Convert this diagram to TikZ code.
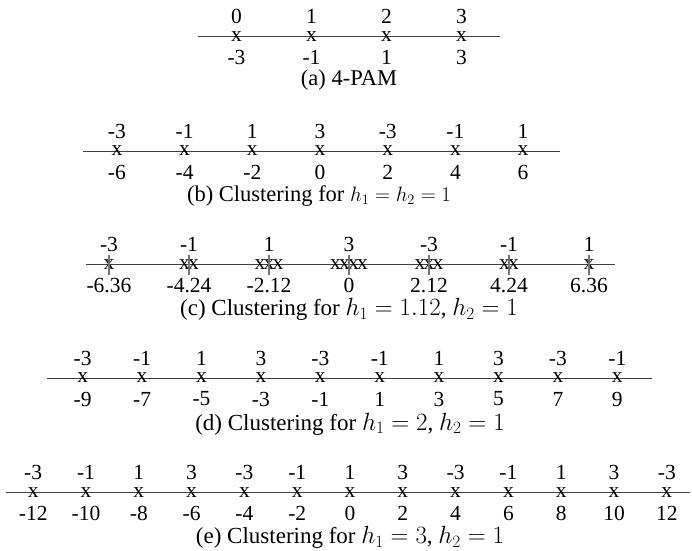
\documentclass[tikz,border=0pt]{standalone}
\usepackage{fontspec}
\setmainfont{Liberation Serif}

\begin{document}
\begin{tikzpicture}[x=1pt,y=-1pt,font=\fontsize{21.5}{25}\selectfont,
  axis/.style={line width=1pt,black!75},
  tickline/.style={line width=1.3pt,black!55},
  lbl/.style={inner sep=0pt},
  captext/.style={inner sep=0pt,font=\fontsize{22.5}{26}\selectfont},
  bigcap/.style={inner sep=0pt,font=\fontsize{23}{27}\selectfont}]
\useasboundingbox (0,0) rectangle (692,550);
% (a) 4-PAM
\coordinate (aL) at (198,36.5);
\coordinate (aR) at (500,36.5);
\draw[axis] (aL) -- (aR);
\foreach \i/\v in {0/-3,1/-1,2/1,3/3}{
  \node[lbl] (ax\i) at (349+37.5*\v,36.5) {x};
  \node[lbl] (at\i) at (349+37.5*\v,16.5) {\i};
  \node[lbl] (ab\i) at (349+37.5*\v,57.5) {\v};
}
\node[captext] (capa) at (349,80) {(a) 4-PAM};
% (b) h1=h2=1
\coordinate (bL) at (83,151);
\coordinate (bR) at (560,151);
\draw[axis] (bL) -- (bR);
\foreach \s/\t [count=\k] in {-6/-3,-4/-1,-2/1,0/3,2/-3,4/-1,6/1}{
  \node[lbl] (bx\k) at (320+33.85*\s,151) {x};
  \node[lbl] (bt\k) at (320+33.85*\s,131) {\t};
  \node[lbl] (bb\k) at (320+33.85*\s,172) {\s};
}
\node[captext] (capb) at (319,196) {(b) Clustering for $h_1=h_2=1$};
% (c) h1=1.12, h2=1
\coordinate (cL) at (86,264.5);
\coordinate (cR) at (615,264.5);
\draw[axis] (cL) -- (cR);
\foreach \s/\t/\p [count=\k] in {-6/-3/-6.36,-4/-1/-4.24,-2/1/-2.12,0/3/0,2/-3/2.12,4/-1/4.24,6/1/6.36}{
  \node[lbl] (ct\k) at (349+37.74*\p,244.5) {\t};
  \node[lbl] (cb\k) at (349+37.74*\p,285.5) {\p};
}
\foreach \a [count=\m] in {-3,-1,1,3}
  \foreach \b [count=\n] in {-3,-1,1,3}
    \node[lbl] (cx\m\n) at ({349+37.74*(1.12*\a+\b)},264.5) {x};
\foreach \p in {-6.36,-4.24,-2.12,0,2.12,4.24,6.36}
  \draw[tickline] (349+37.74*\p,255) -- (349+37.74*\p,275);
\node[bigcap] (capc) at (349,309.5) {(c) Clustering for $h_1=1.12$, $h_2=1$};
% (d) h1=2, h2=1
\coordinate (dL) at (47,378);
\coordinate (dR) at (652,378);
\draw[axis] (dL) -- (dR);
\foreach \s/\t [count=\k] in {-9/-3,-7/-1,-5/1,-3/3,-1/-3,1/-1,3/1,5/3,7/-3,9/-1}{
  \node[lbl] (dx\k) at (350+29.7*\s,378) {x};
  \node[lbl] (dt\k) at (350+29.7*\s,358) {\t};
  \node[lbl] (db\k) at (350+29.7*\s,399) {\s};
}
\node[bigcap] (capd) at (350,424) {(d) Clustering for $h_1=2$, $h_2=1$};
% (e) h1=3, h2=1
\coordinate (eL) at (6,492.5);
\coordinate (eR) at (690,492.5);
\draw[axis] (eL) -- (eR);
\foreach \s/\t [count=\k] in {-12/-3,-10/-1,-8/1,-6/3,-4/-3,-2/-1,0/1,2/3,4/-3,6/-1,8/1,10/3,12/-3}{
  \node[lbl] (ex\k) at (350+26.4*\s,492.5) {x};
  \node[lbl] (et\k) at (350+26.4*\s,472.5) {\t};
  \node[lbl] (eb\k) at (350+26.4*\s,513.5) {\s};
}
\node[bigcap] (cape) at (350,537.5) {(e) Clustering for $h_1=3$, $h_2=1$};
\end{tikzpicture}
\end{document}
